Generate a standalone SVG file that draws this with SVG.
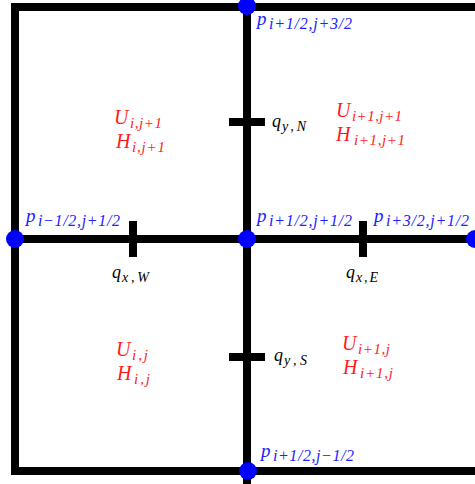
<svg xmlns="http://www.w3.org/2000/svg" width="475" height="484" viewBox="0 0 475 484">
<style>
.ln{stroke:#000;stroke-width:8;fill:none;stroke-linecap:butt}
.nd{fill:#0000ff}
.m{font-family:"Liberation Serif",serif;font-style:italic}
.b{fill:#2020ff}
.r{fill:#ff1a1a}
.k{fill:#000}
.big{font-size:20px}
.pb{font-size:19px}
.ps{font-size:16px}
.sub{font-size:15px}
.qb{font-size:18px}
.qs{font-size:14px}
</style>
<rect width="475" height="484" fill="#fff"/>
<g id="connectors">
<path class="ln" d="M11 7H475M15 3V475M11 471H475M247 0V484M15 239H475"/>
<path class="ln" d="M229 122H265M229 357H265M133 221V257M363 221V257"/>
</g>
<g id="node-top"><circle class="nd" cx="247" cy="6" r="9"/></g>
<g id="node-left"><circle class="nd" cx="15" cy="239" r="9"/></g>
<g id="node-center"><circle class="nd" cx="247" cy="239" r="9"/></g>
<g id="node-right"><circle class="nd" cx="475" cy="239" r="9"/></g>
<g id="node-bottom"><circle class="nd" cx="248" cy="471" r="9"/></g>
<g id="labels-p" class="m b">
<text class="pb" x="257" y="25">p</text><text class="ps" x="269" y="29" textLength="83" lengthAdjust="spacing">i+1/2,j+3/2</text>
<text class="pb" x="26" y="222">p</text><text class="ps" x="38" y="226" textLength="82" lengthAdjust="spacing">i−1/2,j+1/2</text>
<text class="pb" x="257" y="222">p</text><text class="ps" x="269" y="226" textLength="83" lengthAdjust="spacing">i+1/2,j+1/2</text>
<text class="pb" x="374" y="222">p</text><text class="ps" x="386" y="226" textLength="83" lengthAdjust="spacing">i+3/2,j+1/2</text>
<text class="pb" x="261" y="457">p</text><text class="ps" x="273" y="461" textLength="81" lengthAdjust="spacing">i+1/2,j−1/2</text>
</g>
<g id="labels-q" class="m k">
<text class="qb" x="272" y="127">q</text><text class="qs" x="282" y="131" textLength="24" lengthAdjust="spacing">y,N</text>
<text class="qb" x="274" y="361">q</text><text class="qs" x="284" y="365" textLength="23" lengthAdjust="spacing">y,S</text>
<text class="qb" x="112" y="278">q</text><text class="qs" x="122" y="282" textLength="27" lengthAdjust="spacing">x,W</text>
<text class="qb" x="346" y="278">q</text><text class="qs" x="356" y="282" textLength="22" lengthAdjust="spacing">x,E</text>
</g>
<g id="cell-NW" class="m r">
<text class="big" x="114" y="124">U</text><text class="sub" x="130" y="128" textLength="32" lengthAdjust="spacing">i,j+1</text>
<text class="big" x="116" y="148">H</text><text class="sub" x="132" y="152" textLength="33" lengthAdjust="spacing">i,j+1</text>
</g>
<g id="cell-NE" class="m r">
<text class="big" x="336" y="117">U</text><text class="sub" x="352" y="121" textLength="50" lengthAdjust="spacing">i+1,j+1</text>
<text class="big" x="336" y="141">H</text><text class="sub" x="354" y="145" textLength="51" lengthAdjust="spacing">i+1,j+1</text>
</g>
<g id="cell-SW" class="m r">
<text class="big" x="116" y="356">U</text><text class="sub" x="132" y="360" textLength="16" lengthAdjust="spacing">i,j</text>
<text class="big" x="117" y="380">H</text><text class="sub" x="134" y="384" textLength="16" lengthAdjust="spacing">i,j</text>
</g>
<g id="cell-SE" class="m r">
<text class="big" x="342" y="350">U</text><text class="sub" x="358" y="354" textLength="32" lengthAdjust="spacing">i+1,j</text>
<text class="big" x="343" y="374">H</text><text class="sub" x="360" y="378" textLength="33" lengthAdjust="spacing">i+1,j</text>
</g>
</svg>
